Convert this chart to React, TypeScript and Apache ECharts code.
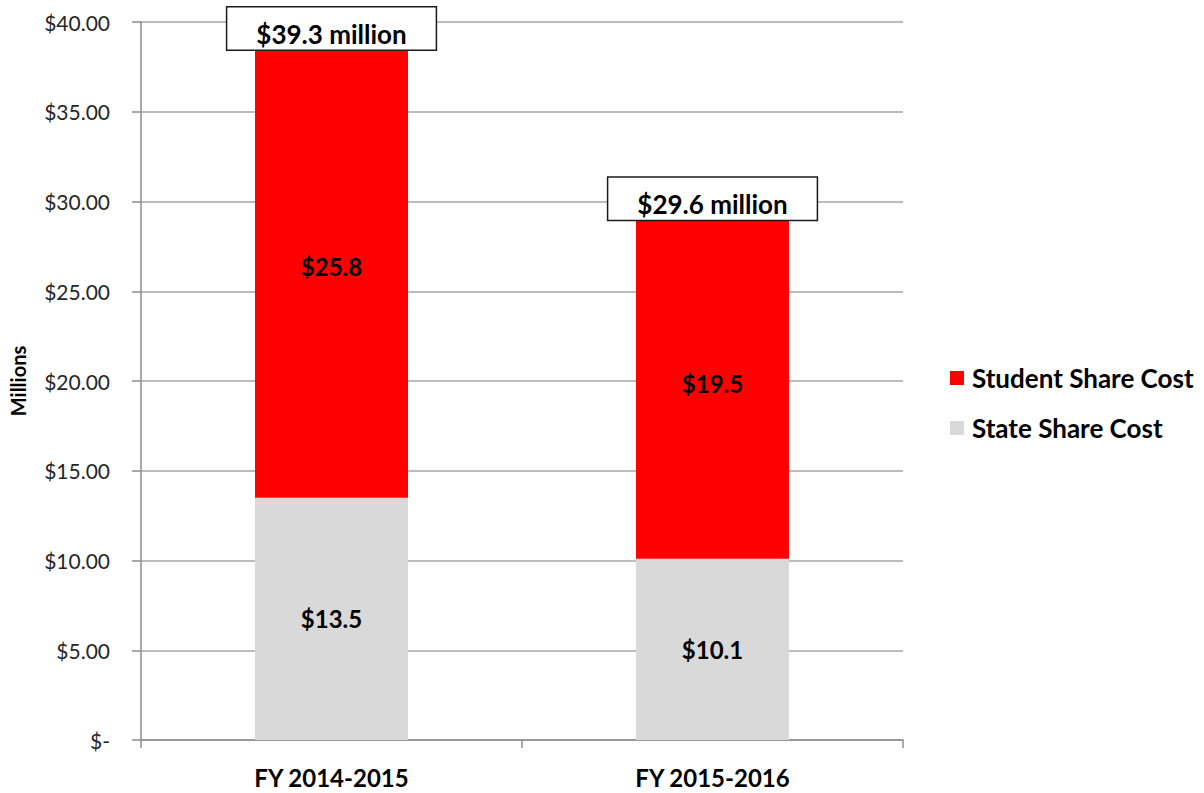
import React, { useEffect, useRef } from "react";
import * as echarts from "echarts";

const categories = ["FY 2014-2015", "FY 2015-2016"];
const stateShare = [13.5, 10.1];
const studentShare = [25.8, 19.5];
const totals = [39.3, 29.6];
const yTicks = [0, 5, 10, 15, 20, 25, 30, 35, 40];

const FONT = "Lato";

export default function App() {
  const ref = useRef<HTMLDivElement>(null);
  useEffect(() => {
    document.body.style.margin = "0";
    const chart = echarts.init(ref.current!, null, { renderer: "svg" });
    const insideLabel = {
      show: true,
      position: "inside",
      fontFamily: FONT,
      fontSize: 24,
      fontWeight: "bold",
      color: "#000",
    };
    chart.setOption({
      animation: false,
      textStyle: { fontFamily: FONT },
      grid: { left: 141, right: 301, top: 22, bottom: 53 },
      legend: {
        orient: "vertical",
        left: 945,
        top: 360,
        itemWidth: 14,
        itemHeight: 14,
        itemGap: 24,
        icon: "rect",
        data: ["Student Share Cost", "State Share Cost"],
        textStyle: { fontFamily: FONT, fontSize: 26, fontWeight: "bold", color: "#000", padding: [0, 0, 0, 3] },
      },
      xAxis: {
        type: "category",
        data: categories,
        axisLine: { lineStyle: { color: "#8c8c8c", width: 1.5 } },
        axisTick: { show: true, length: 8, lineStyle: { color: "#8c8c8c", width: 1.5 } },
        axisLabel: { fontFamily: FONT, fontSize: 24, fontWeight: "bold", color: "#000", margin: 25 },
      },
      yAxis: {
        type: "value",
        min: 0,
        max: 40,
        interval: 5,
        name: "Millions",
        nameLocation: "middle",
        nameGap: 113,
        nameTextStyle: { fontFamily: FONT, fontSize: 20, fontWeight: "bold", color: "#000" },
        axisLine: { show: true, lineStyle: { color: "#8c8c8c", width: 1.5 } },
        axisTick: { show: true, length: 9, lineStyle: { color: "#8c8c8c", width: 1.5 } },
        splitLine: { lineStyle: { color: "#a6a6a6", width: 1.5 } },
        axisLabel: {
          fontFamily: FONT,
          fontSize: 21,
          color: "#262626",
          margin: 31,
          formatter: (v: number) => (yTicks.includes(v) ? (v === 0 ? "$-" : "$" + v.toFixed(2)) : ""),
        },
      },
      series: [
        {
          name: "State Share Cost",
          type: "bar",
          stack: "total",
          barWidth: 153,
          data: stateShare,
          itemStyle: { color: "#d9d9d9" },
          label: { ...insideLabel, formatter: (p: any) => "$" + p.value.toFixed(1) },
        },
        {
          name: "Student Share Cost",
          type: "bar",
          stack: "total",
          barWidth: 153,
          data: studentShare,
          itemStyle: { color: "#ff0000" },
          label: { ...insideLabel, formatter: (p: any) => "$" + p.value.toFixed(1) },
        },
        {
          name: "Total",
          type: "bar",
          stack: "total",
          barWidth: 153,
          silent: true,
          itemStyle: { color: "transparent" },
          data: totals.map((t, i) => ({
            value: 0,
            label: {
              show: true,
              position: "top",
              distance: i === 0 ? -15 : -11,
              fontFamily: FONT,
              fontSize: 26,
              fontWeight: "bold",
              color: "#000",
              backgroundColor: "#fff",
              borderColor: "#1a1a1a",
              borderWidth: 1.5,
              padding: [13, 29, 3, 29],
              formatter: "$" + t.toFixed(1) + " million",
            },
          })),
        },
      ],
    });
    return () => chart.dispose();
  }, []);
  return <div ref={ref} style={{ width: 1204, height: 793 }} />;
}
